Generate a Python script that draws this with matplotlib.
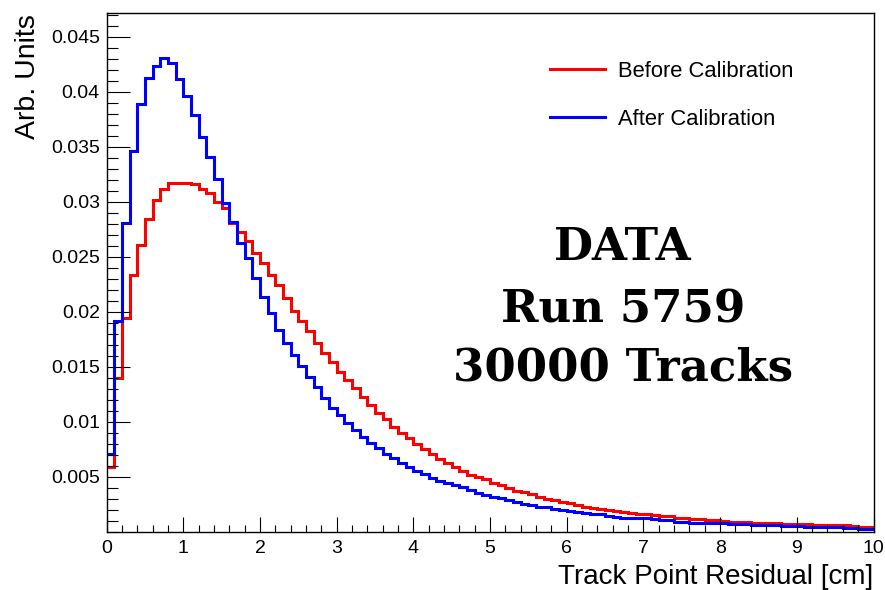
import numpy as np
import matplotlib
matplotlib.use('Agg')
import matplotlib.pyplot as plt
from matplotlib.ticker import MultipleLocator

# residual histograms, 100 bins of 0.1 cm, normalised
bin_edges = np.linspace(0, 10, 101)

before_cal = [
    0.00594, 0.01403, 0.01942, 0.02336, 0.02609, 0.02845, 0.03018, 0.03115, 0.03176, 0.03176,
    0.03176, 0.03164, 0.03115, 0.03079, 0.03000, 0.02942, 0.02810, 0.02730, 0.02648, 0.02533,
    0.02442, 0.02336, 0.02245, 0.02124, 0.02012, 0.01921, 0.01830, 0.01715, 0.01630, 0.01548,
    0.01457, 0.01382, 0.01310, 0.01230, 0.01155, 0.01085, 0.01024, 0.00957, 0.00903, 0.00852,
    0.00800, 0.00752, 0.00706, 0.00664, 0.00624, 0.00594, 0.00558, 0.00518, 0.00500, 0.00479,
    0.00448, 0.00427, 0.00397, 0.00376, 0.00361, 0.00345, 0.00321, 0.00303, 0.00288, 0.00273,
    0.00261, 0.00245, 0.00230, 0.00215, 0.00206, 0.00200, 0.00194, 0.00185, 0.00176, 0.00168,
    0.00164, 0.00158, 0.00145, 0.00145, 0.00130, 0.00130, 0.00121, 0.00121, 0.00109, 0.00109,
    0.00103, 0.00094, 0.00094, 0.00094, 0.00085, 0.00085, 0.00085, 0.00085, 0.00073, 0.00073,
    0.00073, 0.00073, 0.00064, 0.00064, 0.00064, 0.00064, 0.00064, 0.00055, 0.00048, 0.00048,
]

after_cal = [
    0.00709, 0.01920, 0.02810, 0.03464, 0.03888, 0.04124, 0.04239, 0.04306, 0.04261, 0.04115,
    0.03964, 0.03791, 0.03594, 0.03408, 0.03205, 0.02988, 0.02815, 0.02624, 0.02488, 0.02306,
    0.02139, 0.01988, 0.01836, 0.01715, 0.01609, 0.01506, 0.01409, 0.01318, 0.01215, 0.01124,
    0.01064, 0.00988, 0.00927, 0.00867, 0.00812, 0.00761, 0.00709, 0.00670, 0.00630, 0.00594,
    0.00555, 0.00524, 0.00494, 0.00467, 0.00442, 0.00424, 0.00406, 0.00385, 0.00358, 0.00336,
    0.00321, 0.00306, 0.00291, 0.00276, 0.00258, 0.00245, 0.00230, 0.00224, 0.00212, 0.00200,
    0.00194, 0.00185, 0.00176, 0.00167, 0.00161, 0.00145, 0.00139, 0.00130, 0.00130, 0.00124,
    0.00124, 0.00118, 0.00109, 0.00109, 0.00094, 0.00094, 0.00085, 0.00085, 0.00079, 0.00079,
    0.00079, 0.00070, 0.00070, 0.00070, 0.00064, 0.00064, 0.00064, 0.00064, 0.00055, 0.00055,
    0.00055, 0.00042, 0.00042, 0.00042, 0.00042, 0.00042, 0.00040, 0.00040, 0.00026, 0.00026,
]

series_labels = ['Before Calibration', 'After Calibration']
series_colors = ['#ff0000', '#0000ff']

y_ticks = [0.005, 0.01, 0.015, 0.02, 0.025, 0.03, 0.035, 0.04, 0.045]
y_ticklabels = ['0.005', '0.01', '0.015', '0.02', '0.025', '0.03', '0.035', '0.04', '0.045']
x_ticks = list(range(0, 11))

info_lines = ['DATA', 'Run 5759', '30000 Tracks']

plt.rcParams['font.family'] = ['Liberation Sans', 'DejaVu Sans']

W, H = 885, 590
fig = plt.figure(figsize=(W / 100, H / 100), dpi=100)
ax = fig.add_axes([106.7 / W, 1 - 532 / H, (873.5 - 106.7) / W, (532 - 12.7) / H])

for vals, col, lab in zip([before_cal, after_cal], series_colors, series_labels):
    ax.stairs(vals, bin_edges, baseline=None, color=col, lw=2.2, label=lab)

ax.set_xlim(0, 10)
ax.set_ylim(0, 0.0472)

ax.set_xticks(x_ticks)
ax.set_xticklabels([str(t) for t in x_ticks])
ax.xaxis.set_minor_locator(MultipleLocator(0.2))
ax.set_yticks(y_ticks)
ax.set_yticklabels(y_ticklabels)
ax.yaxis.set_minor_locator(MultipleLocator(0.001))

ax.tick_params(which='both', direction='in', top=False, right=False, width=0.8, color='black')
ax.tick_params(axis='x', which='major', length=10.8, labelsize=14, pad=6)
ax.tick_params(axis='x', which='minor', length=5)
ax.tick_params(axis='y', which='major', length=16.5, labelsize=14, pad=5)
ax.tick_params(axis='y', which='minor', length=8)
for sp in ax.spines.values():
    sp.set_linewidth(1.0)

# axis titles aligned to the axis ends
fig.text(28 / W, 1 - 14 / H, 'Arb. Units', rotation=90, ha='center', va='top', fontsize=20.5)
fig.text(873 / W, 1 - 577 / H, 'Track Point Residual [cm]', ha='right', va='center', fontsize=20)

ax.legend(loc='upper left', bbox_to_anchor=(550 / W, 1 - 61 / H), bbox_transform=fig.transFigure,
          frameon=False, fontsize=15.8, handlelength=2.5, handletextpad=0.6,
          labelspacing=1.22, borderpad=0, borderaxespad=0)

for txt, yc in zip(info_lines, [248, 310, 368]):
    fig.text(623 / W, 1 - yc / H, txt, ha='center', va='center', fontsize=32.5,
             fontweight='bold', family='DejaVu Serif')

fig.savefig('out.png', dpi=100)
